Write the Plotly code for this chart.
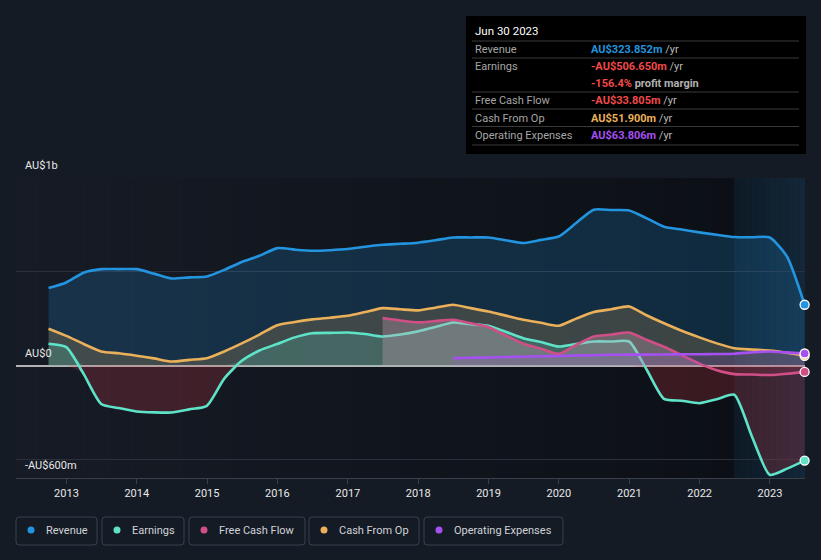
import plotly.graph_objects as go
import pandas as pd

# ---------------- data (millions AU$) ----------------
dates = ["2012-09-30", "2012-12-31",
         "2013-03-31", "2013-06-30", "2013-09-30", "2013-12-31",
         "2014-03-31", "2014-06-30", "2014-09-30", "2014-12-31",
         "2015-03-31", "2015-06-30", "2015-09-30", "2015-12-31",
         "2016-03-31", "2016-06-30", "2016-09-30", "2016-12-31",
         "2017-03-31", "2017-06-30", "2017-09-30", "2017-12-31",
         "2018-03-31", "2018-06-30", "2018-09-30", "2018-12-31",
         "2019-03-31", "2019-06-30", "2019-09-30", "2019-12-31",
         "2020-03-31", "2020-06-30", "2020-09-30", "2020-12-31",
         "2021-03-31", "2021-06-30", "2021-09-30", "2021-12-31",
         "2022-03-31", "2022-06-30", "2022-09-30", "2022-12-31",
         "2023-03-31", "2023-06-30"]

revenue = [413, 443, 495, 514, 514, 514, 490, 464, 470, 475,
           510, 552, 585, 626, 618, 612, 615, 621, 633, 644,
           649, 655, 668, 683, 683, 683, 668, 653, 670, 688,
           760, 831, 829, 827, 786, 740, 725, 710, 697, 685,
           684, 683, 580, 324]

earnings = [116, 98, -45, -205, -227, -245, -250, -251, -234, -215,
            -70, 25, 80, 115, 150, 172, 174, 176, 168, 155,
            165, 182, 205, 229, 220, 212, 180, 146, 125, 101,
            115, 128, 128, 128, -20, -178, -188, -201, -180, -156,
            -380, -583, -550, -507]

fcf_dates = dates[19:]
fcf = [253, 240, 230, 237, 244, 225, 205, 160, 116, 90,
       62, 110, 155, 165, 176, 137, 100, 55, 10, -25,
       -46, -48, -51, -44, -34]

cfo = [196, 158, 115, 75, 65, 52, 38, 21, 30, 39,
       75, 118, 165, 215, 232, 246, 255, 265, 285, 306,
       300, 294, 308, 324, 306, 288, 266, 244, 228, 212,
       250, 285, 300, 315, 268, 225, 185, 150, 118, 92,
       85, 80, 68, 52]

opex_dates = dates[23:]
opex = [39, 41, 43, 45, 47, 49, 51, 53, 55, 57,
        58, 58, 59, 60, 60, 61, 63, 70, 75, 70, 64]

year_ticks = ["2013", "2014", "2015", "2016", "2017", "2018",
              "2019", "2020", "2021", "2022", "2023"]
y_labels = ["AU$1b", "AU$0", "-AU$600m"]
y_label_vals = [1000, 0, -600]

series_names = ["Revenue", "Earnings", "Free Cash Flow", "Cash From Op", "Operating Expenses"]
C_REV, C_EARN, C_FCF, C_CFO, C_OPEX = "#2394df", "#5ee3c8", "#cf4f86", "#ebb05a", "#a650f2"
series_colors = [C_REV, C_EARN, C_FCF, C_CFO, C_OPEX]

tip_date = "Jun 30 2023"
tip_rows = [("Revenue", "AU$323.852m", C_REV),
            ("Earnings", "-AU$506.650m", "#f04a4a"),
            ("Free Cash Flow", "-AU$33.805m", "#f04a4a"),
            ("Cash From Op", "AU$51.900m", C_CFO),
            ("Operating Expenses", "AU$63.806m", C_OPEX)]
tip_margin = "-156.4%"

BG = "#151b25"
X_START, X_END = "2012-04-14", "2023-07-02"
PAST_START = "2022-06-30"

# ---------------- helpers ----------------
L, R, T, B = 16, 805, 178, 478


def px(x):
    return (x - L) / (R - L)


def py(y):
    return (B - y) / (B - T)


def rounded_rect(x0, y0, x1, y1, r=3):
    X0, X1 = px(x0), px(x1)
    Y0, Y1 = py(y1), py(y0)  # bottom, top in paper
    rx, ry = r / (R - L), r / (B - T)
    return (f"M {X0+rx},{Y0} L {X1-rx},{Y0} Q {X1},{Y0} {X1},{Y0+ry} "
            f"L {X1},{Y1-ry} Q {X1},{Y1} {X1-rx},{Y1} L {X0+rx},{Y1} "
            f"Q {X0},{Y1} {X0},{Y1-ry} L {X0},{Y0+ry} Q {X0},{Y0} {X0+rx},{Y0} Z")


fig = go.Figure()
LW = 2.6
SPL = dict(shape="spline", smoothing=0.6)

# Revenue
fig.add_trace(go.Scatter(x=dates, y=revenue, mode="lines", fill="tozeroy",
                         fillcolor="rgba(35,148,223,0.20)",
                         line=dict(color=C_REV, width=LW, **SPL), hoverinfo="skip"))
# Cash from op
fig.add_trace(go.Scatter(x=dates, y=cfo, mode="lines", fill="tozeroy",
                         fillcolor="rgba(235,176,90,0.20)",
                         line=dict(color=C_CFO, width=LW, **SPL), hoverinfo="skip"))
# Earnings fills
fig.add_trace(go.Scatter(x=dates, y=[max(v, 0) for v in earnings], mode="lines", fill="tozeroy",
                         fillcolor="rgba(94,227,200,0.20)",
                         line=dict(width=0, **SPL), hoverinfo="skip"))
fig.add_trace(go.Scatter(x=dates, y=[min(v, 0) for v in earnings], mode="lines", fill="tozeroy",
                         fillcolor="rgba(225,60,72,0.22)",
                         line=dict(width=0, **SPL), hoverinfo="skip"))
fig.add_trace(go.Scatter(x=dates, y=earnings, mode="lines",
                         line=dict(color=C_EARN, width=LW, **SPL), hoverinfo="skip"))
# FCF
fig.add_trace(go.Scatter(x=fcf_dates, y=[max(v, 0) for v in fcf], mode="lines", fill="tozeroy",
                         fillcolor="rgba(205,165,185,0.32)",
                         line=dict(width=0, **SPL), hoverinfo="skip"))
fig.add_trace(go.Scatter(x=fcf_dates, y=[min(v, 0) for v in fcf], mode="lines", fill="tozeroy",
                         fillcolor="rgba(225,60,100,0.15)",
                         line=dict(width=0, **SPL), hoverinfo="skip"))
fig.add_trace(go.Scatter(x=fcf_dates, y=fcf, mode="lines",
                         line=dict(color=C_FCF, width=LW, **SPL), hoverinfo="skip"))
# Opex
fig.add_trace(go.Scatter(x=opex_dates, y=opex, mode="lines", fill="tozeroy",
                         fillcolor="rgba(166,80,242,0.15)",
                         line=dict(color=C_OPEX, width=LW, **SPL), hoverinfo="skip"))

# end markers
for xs, ys, c in [(dates, cfo, C_CFO), (dates, revenue, C_REV), (dates, earnings, C_EARN),
                  (fcf_dates, fcf, C_FCF), (opex_dates, opex, C_OPEX)]:
    fig.add_trace(go.Scatter(x=[xs[-1]], y=[ys[-1]], mode="markers",
                             marker=dict(size=9, color=c, line=dict(color="white", width=1.3)),
                             hoverinfo="skip", cliponaxis=False))

shapes = []
# background gradient (left -> right darker)
t0, t1 = pd.Timestamp(X_START), pd.Timestamp(PAST_START)
N = 30
c0, c1 = (22, 27, 37), (12, 16, 22)
for i in range(N):
    a = t0 + (t1 - t0) * i / N
    b = t0 + (t1 - t0) * (i + 1) / N
    f = (i + 0.5) / N
    col = tuple(round(c0[k] + (c1[k] - c0[k]) * f) for k in range(3))
    shapes.append(dict(type="rect", xref="x", yref="paper", x0=a, x1=b, y0=0, y1=1,
                       fillcolor="rgb(%d,%d,%d)" % col, line=dict(width=0), layer="below"))
# past year highlight
t2, t3 = pd.Timestamp(PAST_START), pd.Timestamp(X_END)
M = 12
p0, p1 = (14, 26, 37), (19, 40, 58)
for i in range(M):
    a = t2 + (t3 - t2) * i / M
    b = t2 + (t3 - t2) * (i + 1) / M
    f = (i + 0.5) / M
    col = tuple(round(p0[k] + (p1[k] - p0[k]) * f) for k in range(3))
    shapes.append(dict(type="rect", xref="x", yref="paper", x0=a, x1=b, y0=0, y1=1,
                       fillcolor="rgb(%d,%d,%d)" % col, line=dict(width=0), layer="below"))

# tooltip box
shapes.append(dict(type="rect", xref="paper", yref="paper", x0=px(466), x1=px(806),
                   y0=py(154), y1=py(16), fillcolor="#000000", line=dict(width=0), layer="above"))
for yy in [41, 58, 92, 109, 126.5, 145]:
    shapes.append(dict(type="line", xref="paper", yref="paper", x0=px(472), x1=px(799),
                       y0=py(yy), y1=py(yy), line=dict(color="#3a3a3a", width=1), layer="above"))

annotations = []
FONT = "Roboto, Inter, sans-serif"
annotations.append(dict(x=px(473), y=py(31), xref="paper", yref="paper", text=tip_date,
                        showarrow=False, xanchor="left", yanchor="middle",
                        font=dict(family=FONT, size=11.5, color="#ffffff")))
row_y = [49, 66, 100.5, 118, 135]
for (lab, val, col), yy in zip(tip_rows, row_y):
    annotations.append(dict(x=px(473), y=py(yy), xref="paper", yref="paper", text=lab,
                            showarrow=False, xanchor="left", yanchor="middle",
                            font=dict(family=FONT, size=11, color="#a6a6a6")))
    annotations.append(dict(x=px(589), y=py(yy), xref="paper", yref="paper",
                            text=f"<b><span style='color:{col}'>{val}</span></b>"
                                 f"<span style='color:#b8b8b8'> /yr</span>",
                            showarrow=False, xanchor="left", yanchor="middle",
                            font=dict(family=FONT, size=11, color="#b8b8b8")))
annotations.append(dict(x=px(589), y=py(83.5), xref="paper", yref="paper",
                        text=f"<b><span style='color:#f04a4a'>{tip_margin}</span>"
                             f"<span style='color:#b0b0b0'> profit margin</span></b>",
                        showarrow=False, xanchor="left", yanchor="middle",
                        font=dict(family=FONT, size=11, color="#b0b0b0")))

# y labels
for lab, v in zip(y_labels, y_label_vals):
    annotations.append(dict(x=px(23), y=v, xref="paper", yref="y", text=lab,
                            showarrow=False, xanchor="left", yanchor="bottom", yshift=4,
                            font=dict(family=FONT, size=11, color="#e8e8e8")))

# legend
leg_boxes = [(16, 97), (102, 184), (189, 305), (309, 419), (424, 563)]
for (x0, x1), name, col in zip(leg_boxes, series_names, series_colors):
    shapes.append(dict(type="path", xref="paper", yref="paper", path=rounded_rect(x0, 517, x1, 545),
                       line=dict(color="#3a414d", width=1), fillcolor="rgba(0,0,0,0)"))
    shapes.append(dict(type="circle", xref="paper", yref="paper",
                       x0=px(x0 + 11.5), x1=px(x0 + 18.5), y0=py(533.5), y1=py(526.5),
                       fillcolor=col, line=dict(width=0)))
    annotations.append(dict(x=px(x0 + 28), y=py(530.5), xref="paper", yref="paper", text=name,
                            showarrow=False, xanchor="left", yanchor="middle",
                            font=dict(family=FONT, size=11, color="#cfd3d8")))

fig.update_layout(
    width=821, height=560,
    margin=dict(l=L, r=821 - R, t=T, b=560 - B),
    paper_bgcolor=BG, plot_bgcolor=BG,
    showlegend=False,
    shapes=shapes, annotations=annotations,
    font=dict(family=FONT, color="#e8e8e8"),
    hovermode=False,
)
fig.update_xaxes(type="date", range=[X_START, X_END],
                 tickvals=[f"{y}-01-01" for y in year_ticks], ticktext=year_ticks,
                 showgrid=False, showline=True, linecolor="#3a404a", linewidth=1,
                 ticks="outside", ticklen=5, tickcolor="#3a404a",
                 tickfont=dict(family=FONT, size=11, color="#e8e8e8"), zeroline=False)
fig.update_yaxes(range=[-600, 1000], tickvals=[-500, 0, 500, 1000], showticklabels=False,
                 showgrid=True, gridcolor="#2a313c", gridwidth=1,
                 zeroline=True, zerolinecolor="#b4b4b4", zerolinewidth=2)

fig.write_html("out.html", config={"displayModeBar": False, "staticPlot": True},
               post_script="document.body.style.margin='0';document.body.style.background='%s';" % BG)
